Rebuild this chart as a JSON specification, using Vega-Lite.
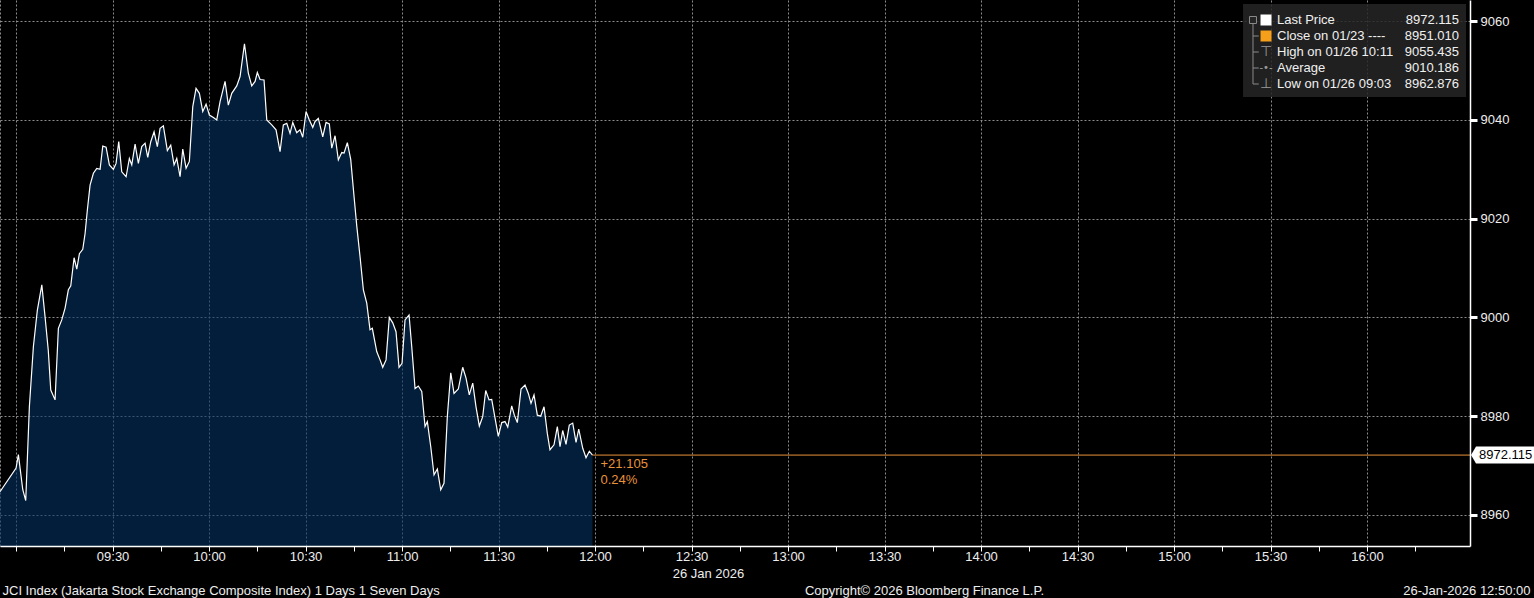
{
  "$schema": "https://vega.github.io/schema/vega-lite/v6.json",
  "width": 1470,
  "height": 546,
  "autosize": {"type": "none"},
  "padding": {"left": 0, "top": 0, "right": 64, "bottom": 52},
  "background": "#000000",
  "config": {
    "view": {"stroke": null},
    "font": "Liberation Sans",
    "axis": {
      "labelFont": "Liberation Sans",
      "labelFontSize": 13,
      "labelColor": "#eeeeee",
      "titleFont": "Liberation Sans",
      "titleFontSize": 13,
      "titleFontWeight": "normal",
      "titleColor": "#eeeeee",
      "domainColor": "#ffffff",
      "tickColor": "#ffffff",
      "gridColor": "#8c8c8c",
      "gridDash": [2, 2],
      "gridWidth": 1
    }
  },
  "resolve": {"scale": {"y": "independent"}},
  "layer": [
    {
      "data": {"values": [
        {"time": "2026-01-26T08:55:00", "price": 8964.7},
        {"time": "2026-01-26T09:00:00", "price": 8969.5},
        {"time": "2026-01-26T09:00:43", "price": 8972.2},
        {"time": "2026-01-26T09:02:05", "price": 8965.1},
        {"time": "2026-01-26T09:03:00", "price": 8962.9},
        {"time": "2026-01-26T09:04:08", "price": 8981.9},
        {"time": "2026-01-26T09:05:23", "price": 8994.1},
        {"time": "2026-01-26T09:06:37", "price": 9001.5},
        {"time": "2026-01-26T09:08:00", "price": 9006.6},
        {"time": "2026-01-26T09:09:00", "price": 9000.2},
        {"time": "2026-01-26T09:10:00", "price": 8993.4},
        {"time": "2026-01-26T09:10:47", "price": 8985.3},
        {"time": "2026-01-26T09:12:07", "price": 8983.3},
        {"time": "2026-01-26T09:13:09", "price": 8997.8},
        {"time": "2026-01-26T09:14:12", "price": 8999.5},
        {"time": "2026-01-26T09:15:14", "price": 9001.9},
        {"time": "2026-01-26T09:16:15", "price": 9005.6},
        {"time": "2026-01-26T09:17:00", "price": 9006.4},
        {"time": "2026-01-26T09:18:02", "price": 9012.1},
        {"time": "2026-01-26T09:18:52", "price": 9009.8},
        {"time": "2026-01-26T09:19:41", "price": 9012.9},
        {"time": "2026-01-26T09:20:44", "price": 9013.8},
        {"time": "2026-01-26T09:21:27", "price": 9017.0},
        {"time": "2026-01-26T09:22:10", "price": 9021.8},
        {"time": "2026-01-26T09:23:00", "price": 9026.8},
        {"time": "2026-01-26T09:24:02", "price": 9029.2},
        {"time": "2026-01-26T09:25:05", "price": 9030.2},
        {"time": "2026-01-26T09:26:07", "price": 9030.0},
        {"time": "2026-01-26T09:26:57", "price": 9034.7},
        {"time": "2026-01-26T09:27:59", "price": 9034.5},
        {"time": "2026-01-26T09:29:00", "price": 9030.9},
        {"time": "2026-01-26T09:30:15", "price": 9030.0},
        {"time": "2026-01-26T09:31:05", "price": 9031.2},
        {"time": "2026-01-26T09:31:55", "price": 9035.6},
        {"time": "2026-01-26T09:32:51", "price": 9029.5},
        {"time": "2026-01-26T09:34:12", "price": 9028.5},
        {"time": "2026-01-26T09:35:13", "price": 9032.2},
        {"time": "2026-01-26T09:35:58", "price": 9030.9},
        {"time": "2026-01-26T09:37:00", "price": 9035.1},
        {"time": "2026-01-26T09:38:01", "price": 9031.2},
        {"time": "2026-01-26T09:39:04", "price": 9034.6},
        {"time": "2026-01-26T09:40:06", "price": 9035.3},
        {"time": "2026-01-26T09:40:56", "price": 9032.4},
        {"time": "2026-01-26T09:41:52", "price": 9035.6},
        {"time": "2026-01-26T09:42:54", "price": 9037.6},
        {"time": "2026-01-26T09:43:55", "price": 9034.6},
        {"time": "2026-01-26T09:44:46", "price": 9038.3},
        {"time": "2026-01-26T09:45:47", "price": 9038.8},
        {"time": "2026-01-26T09:47:02", "price": 9033.8},
        {"time": "2026-01-26T09:48:05", "price": 9034.9},
        {"time": "2026-01-26T09:49:07", "price": 9030.9},
        {"time": "2026-01-26T09:49:57", "price": 9032.2},
        {"time": "2026-01-26T09:50:59", "price": 9028.5},
        {"time": "2026-01-26T09:51:49", "price": 9034.1},
        {"time": "2026-01-26T09:52:51", "price": 9030.2},
        {"time": "2026-01-26T09:53:52", "price": 9031.6},
        {"time": "2026-01-26T09:54:56", "price": 9042.7},
        {"time": "2026-01-26T09:55:57", "price": 9046.4},
        {"time": "2026-01-26T09:56:59", "price": 9045.4},
        {"time": "2026-01-26T09:58:02", "price": 9041.7},
        {"time": "2026-01-26T09:59:04", "price": 9043.2},
        {"time": "2026-01-26T10:00:05", "price": 9041.0},
        {"time": "2026-01-26T10:01:20", "price": 9040.5},
        {"time": "2026-01-26T10:02:23", "price": 9040.0},
        {"time": "2026-01-26T10:03:25", "price": 9043.7},
        {"time": "2026-01-26T10:04:58", "price": 9047.8},
        {"time": "2026-01-26T10:05:59", "price": 9043.0},
        {"time": "2026-01-26T10:07:03", "price": 9045.4},
        {"time": "2026-01-26T10:08:36", "price": 9046.9},
        {"time": "2026-01-26T10:09:38", "price": 9048.8},
        {"time": "2026-01-26T10:11:00", "price": 9055.435},
        {"time": "2026-01-26T10:12:12", "price": 9049.5},
        {"time": "2026-01-26T10:13:16", "price": 9046.9},
        {"time": "2026-01-26T10:14:18", "price": 9047.8},
        {"time": "2026-01-26T10:15:00", "price": 9049.6},
        {"time": "2026-01-26T10:15:51", "price": 9048.2},
        {"time": "2026-01-26T10:17:05", "price": 9048.1},
        {"time": "2026-01-26T10:17:56", "price": 9040.0},
        {"time": "2026-01-26T10:19:29", "price": 9039.0},
        {"time": "2026-01-26T10:20:49", "price": 9038.0},
        {"time": "2026-01-26T10:22:04", "price": 9033.6},
        {"time": "2026-01-26T10:23:05", "price": 9039.0},
        {"time": "2026-01-26T10:24:09", "price": 9039.3},
        {"time": "2026-01-26T10:25:10", "price": 9037.3},
        {"time": "2026-01-26T10:26:01", "price": 9039.5},
        {"time": "2026-01-26T10:27:15", "price": 9037.4},
        {"time": "2026-01-26T10:28:17", "price": 9038.0},
        {"time": "2026-01-26T10:29:07", "price": 9036.5},
        {"time": "2026-01-26T10:30:09", "price": 9041.7},
        {"time": "2026-01-26T10:31:10", "price": 9040.0},
        {"time": "2026-01-26T10:32:14", "price": 9038.5},
        {"time": "2026-01-26T10:32:57", "price": 9039.7},
        {"time": "2026-01-26T10:33:58", "price": 9040.3},
        {"time": "2026-01-26T10:35:20", "price": 9036.6},
        {"time": "2026-01-26T10:36:22", "price": 9039.5},
        {"time": "2026-01-26T10:37:23", "price": 9039.2},
        {"time": "2026-01-26T10:38:08", "price": 9034.3},
        {"time": "2026-01-26T10:39:10", "price": 9036.8},
        {"time": "2026-01-26T10:40:11", "price": 9031.9},
        {"time": "2026-01-26T10:41:15", "price": 9033.4},
        {"time": "2026-01-26T10:41:58", "price": 9033.3},
        {"time": "2026-01-26T10:42:59", "price": 9035.4},
        {"time": "2026-01-26T10:44:02", "price": 9032.0},
        {"time": "2026-01-26T10:45:04", "price": 9024.5},
        {"time": "2026-01-26T10:45:55", "price": 9018.5},
        {"time": "2026-01-26T10:46:56", "price": 9012.3},
        {"time": "2026-01-26T10:47:58", "price": 9005.6},
        {"time": "2026-01-26T10:49:01", "price": 9002.9},
        {"time": "2026-01-26T10:50:02", "price": 8997.5},
        {"time": "2026-01-26T10:50:45", "price": 8997.8},
        {"time": "2026-01-26T10:52:07", "price": 8993.1},
        {"time": "2026-01-26T10:53:09", "price": 8991.4},
        {"time": "2026-01-26T10:53:59", "price": 8989.9},
        {"time": "2026-01-26T10:55:01", "price": 8991.4},
        {"time": "2026-01-26T10:56:02", "price": 9000.0},
        {"time": "2026-01-26T10:57:06", "price": 8998.9},
        {"time": "2026-01-26T10:58:07", "price": 8997.1},
        {"time": "2026-01-26T10:59:03", "price": 8989.9},
        {"time": "2026-01-26T10:59:59", "price": 8990.7},
        {"time": "2026-01-26T11:00:55", "price": 8999.5},
        {"time": "2026-01-26T11:02:10", "price": 9000.5},
        {"time": "2026-01-26T11:03:00", "price": 8994.1},
        {"time": "2026-01-26T11:04:02", "price": 8985.6},
        {"time": "2026-01-26T11:05:03", "price": 8986.1},
        {"time": "2026-01-26T11:06:07", "price": 8985.0},
        {"time": "2026-01-26T11:07:08", "price": 8977.9},
        {"time": "2026-01-26T11:07:51", "price": 8978.9},
        {"time": "2026-01-26T11:08:55", "price": 8973.8},
        {"time": "2026-01-26T11:09:56", "price": 8968.1},
        {"time": "2026-01-26T11:10:58", "price": 8969.3},
        {"time": "2026-01-26T11:12:01", "price": 8965.1},
        {"time": "2026-01-26T11:13:02", "price": 8966.4},
        {"time": "2026-01-26T11:14:04", "price": 8979.9},
        {"time": "2026-01-26T11:15:08", "price": 8988.8},
        {"time": "2026-01-26T11:16:09", "price": 8984.6},
        {"time": "2026-01-26T11:17:29", "price": 8985.5},
        {"time": "2026-01-26T11:18:51", "price": 8989.9},
        {"time": "2026-01-26T11:19:53", "price": 8987.7},
        {"time": "2026-01-26T11:20:54", "price": 8984.3},
        {"time": "2026-01-26T11:21:58", "price": 8986.7},
        {"time": "2026-01-26T11:22:59", "price": 8981.9},
        {"time": "2026-01-26T11:24:01", "price": 8978.0},
        {"time": "2026-01-26T11:25:04", "price": 8979.9},
        {"time": "2026-01-26T11:26:00", "price": 8985.2},
        {"time": "2026-01-26T11:27:02", "price": 8983.3},
        {"time": "2026-01-26T11:27:52", "price": 8983.4},
        {"time": "2026-01-26T11:28:54", "price": 8979.6},
        {"time": "2026-01-26T11:29:55", "price": 8975.9},
        {"time": "2026-01-26T11:30:59", "price": 8978.7},
        {"time": "2026-01-26T11:32:00", "price": 8978.9},
        {"time": "2026-01-26T11:32:51", "price": 8977.8},
        {"time": "2026-01-26T11:34:05", "price": 8982.1},
        {"time": "2026-01-26T11:34:54", "price": 8980.2},
        {"time": "2026-01-26T11:35:50", "price": 8978.7},
        {"time": "2026-01-26T11:36:59", "price": 8985.5},
        {"time": "2026-01-26T11:38:13", "price": 8986.3},
        {"time": "2026-01-26T11:39:15", "price": 8984.6},
        {"time": "2026-01-26T11:40:05", "price": 8982.6},
        {"time": "2026-01-26T11:41:01", "price": 8984.3},
        {"time": "2026-01-26T11:42:03", "price": 8980.2},
        {"time": "2026-01-26T11:43:06", "price": 8980.0},
        {"time": "2026-01-26T11:44:08", "price": 8981.9},
        {"time": "2026-01-26T11:45:09", "price": 8976.5},
        {"time": "2026-01-26T11:45:59", "price": 8973.2},
        {"time": "2026-01-26T11:47:14", "price": 8974.2},
        {"time": "2026-01-26T11:48:16", "price": 8977.9},
        {"time": "2026-01-26T11:49:06", "price": 8973.8},
        {"time": "2026-01-26T11:49:56", "price": 8977.1},
        {"time": "2026-01-26T11:50:58", "price": 8974.3},
        {"time": "2026-01-26T11:51:59", "price": 8978.2},
        {"time": "2026-01-26T11:53:03", "price": 8978.6},
        {"time": "2026-01-26T11:54:05", "price": 8974.7},
        {"time": "2026-01-26T11:54:55", "price": 8977.4},
        {"time": "2026-01-26T11:56:10", "price": 8973.5},
        {"time": "2026-01-26T11:57:11", "price": 8971.6},
        {"time": "2026-01-26T11:58:13", "price": 8972.9},
        {"time": "2026-01-26T11:59:12", "price": 8972.115}
      ]},
      "resolve": {"axis": {"x": "independent", "y": "independent"}},
      "layer": [
        {
          "mark": {"type": "area", "fill": "#053261", "fillOpacity": 0.6, "clip": true},
          "encoding": {
            "x": {
              "field": "time", "type": "temporal",
              "scale": {"domain": [
                {"year": 2026, "month": 1, "date": 26, "hours": 8, "minutes": 55},
                {"year": 2026, "month": 1, "date": 26, "hours": 16, "minutes": 32}
              ]},
              "axis": {
                "orient": "bottom", "zindex": 0, "grid": true, "labels": false, "ticks": false, "domain": false,
                "values": [
                  {"year": 2026, "month": 1, "date": 26, "hours": 8, "minutes": 55},
                  {"year": 2026, "month": 1, "date": 26, "hours": 9, "minutes": 0},
                  {"year": 2026, "month": 1, "date": 26, "hours": 9, "minutes": 30},
                  {"year": 2026, "month": 1, "date": 26, "hours": 10, "minutes": 0},
                  {"year": 2026, "month": 1, "date": 26, "hours": 10, "minutes": 30},
                  {"year": 2026, "month": 1, "date": 26, "hours": 11, "minutes": 0},
                  {"year": 2026, "month": 1, "date": 26, "hours": 11, "minutes": 30},
                  {"year": 2026, "month": 1, "date": 26, "hours": 12, "minutes": 0},
                  {"year": 2026, "month": 1, "date": 26, "hours": 12, "minutes": 30},
                  {"year": 2026, "month": 1, "date": 26, "hours": 13, "minutes": 0},
                  {"year": 2026, "month": 1, "date": 26, "hours": 13, "minutes": 30},
                  {"year": 2026, "month": 1, "date": 26, "hours": 14, "minutes": 0},
                  {"year": 2026, "month": 1, "date": 26, "hours": 14, "minutes": 30},
                  {"year": 2026, "month": 1, "date": 26, "hours": 15, "minutes": 0},
                  {"year": 2026, "month": 1, "date": 26, "hours": 15, "minutes": 30},
                  {"year": 2026, "month": 1, "date": 26, "hours": 16, "minutes": 0}
                ],
                "title": "Copyright© 2026 Bloomberg Finance L.P.",
                "titleX": 924, "titleY": 44, "titleAlign": "center", "titleBaseline": "middle"
              }
            },
            "y": {
              "field": "price", "type": "quantitative",
              "scale": {"domain": [8953.7, 9064.3], "zero": false, "nice": false},
              "axis": {
                "orient": "left", "zindex": 0, "grid": true, "labels": false, "ticks": false, "domain": false,
                "values": [8960, 8980, 9000, 9020, 9040, 9060],
                "title": "JCI Index (Jakarta Stock Exchange Composite Index) 1 Days 1 Seven Days",
                "titleAngle": 0, "titleX": 2, "titleY": 590, "titleAlign": "left", "titleBaseline": "middle"
              }
            }
          }
        },
        {
          "mark": {"type": "line", "color": "#ffffff", "strokeWidth": 1.2},
          "encoding": {
            "x": {
              "field": "time", "type": "temporal",
              "axis": {
                "orient": "bottom", "zindex": 1, "grid": false, "tickSize": 5, "domainWidth": 1.5,
                "labelBaseline": "middle", "labelPadding": 5, "labelOverlap": false, "labelFlush": false,
                "values": [
                  {"year": 2026, "month": 1, "date": 26, "hours": 9, "minutes": 0},
                  {"year": 2026, "month": 1, "date": 26, "hours": 9, "minutes": 15},
                  {"year": 2026, "month": 1, "date": 26, "hours": 9, "minutes": 30},
                  {"year": 2026, "month": 1, "date": 26, "hours": 9, "minutes": 45},
                  {"year": 2026, "month": 1, "date": 26, "hours": 10, "minutes": 0},
                  {"year": 2026, "month": 1, "date": 26, "hours": 10, "minutes": 15},
                  {"year": 2026, "month": 1, "date": 26, "hours": 10, "minutes": 30},
                  {"year": 2026, "month": 1, "date": 26, "hours": 10, "minutes": 45},
                  {"year": 2026, "month": 1, "date": 26, "hours": 11, "minutes": 0},
                  {"year": 2026, "month": 1, "date": 26, "hours": 11, "minutes": 15},
                  {"year": 2026, "month": 1, "date": 26, "hours": 11, "minutes": 30},
                  {"year": 2026, "month": 1, "date": 26, "hours": 11, "minutes": 45},
                  {"year": 2026, "month": 1, "date": 26, "hours": 12, "minutes": 0},
                  {"year": 2026, "month": 1, "date": 26, "hours": 12, "minutes": 15},
                  {"year": 2026, "month": 1, "date": 26, "hours": 12, "minutes": 30},
                  {"year": 2026, "month": 1, "date": 26, "hours": 12, "minutes": 45},
                  {"year": 2026, "month": 1, "date": 26, "hours": 13, "minutes": 0},
                  {"year": 2026, "month": 1, "date": 26, "hours": 13, "minutes": 15},
                  {"year": 2026, "month": 1, "date": 26, "hours": 13, "minutes": 30},
                  {"year": 2026, "month": 1, "date": 26, "hours": 13, "minutes": 45},
                  {"year": 2026, "month": 1, "date": 26, "hours": 14, "minutes": 0},
                  {"year": 2026, "month": 1, "date": 26, "hours": 14, "minutes": 15},
                  {"year": 2026, "month": 1, "date": 26, "hours": 14, "minutes": 30},
                  {"year": 2026, "month": 1, "date": 26, "hours": 14, "minutes": 45},
                  {"year": 2026, "month": 1, "date": 26, "hours": 15, "minutes": 0},
                  {"year": 2026, "month": 1, "date": 26, "hours": 15, "minutes": 15},
                  {"year": 2026, "month": 1, "date": 26, "hours": 15, "minutes": 30},
                  {"year": 2026, "month": 1, "date": 26, "hours": 15, "minutes": 45},
                  {"year": 2026, "month": 1, "date": 26, "hours": 16, "minutes": 0},
                  {"year": 2026, "month": 1, "date": 26, "hours": 16, "minutes": 15}
                ],
                "labelExpr": "(minutes(datum.value) % 30 == 0 && !(hours(datum.value) == 9 && minutes(datum.value) == 0)) ? timeFormat(datum.value, '%H:%M') : ''",
                "title": "26 Jan 2026",
                "titleX": 708, "titleY": 27, "titleAlign": "center", "titleBaseline": "middle"
              }
            },
            "y": {
              "field": "price", "type": "quantitative",
              "axis": {
                "orient": "right", "zindex": 1, "grid": false, "tickSize": 7, "tickWidth": 3, "domainWidth": 1.5,
                "values": [8960, 8980, 9000, 9020, 9040, 9060], "format": "d",
                "labelPadding": 3, "labelBaseline": "middle", "labelFlush": false,
                "title": "26-Jan-2026 12:50:00",
                "titleAngle": 0, "titleX": 60, "titleY": 590, "titleAlign": "right", "titleBaseline": "middle"
              }
            }
          }
        },
        {
          "data": {"values": [{"time": "2026-01-26T11:59:12", "last": 8972.115, "change": "+21.105", "pct": "0.24%"}]},
          "layer": [
            {
              "mark": {"type": "rule", "color": "#e8923a", "strokeWidth": 1},
              "encoding": {
                "x": {"field": "time", "type": "temporal", "axis": null},
                "x2": {"datum": {"year": 2026, "month": 1, "date": 26, "hours": 16, "minutes": 32}},
                "y": {
                  "field": "last", "type": "quantitative",
                  "axis": {
                    "orient": "right", "zindex": 1, "grid": false, "labels": false, "domain": false,
                    "tickSize": 4, "tickWidth": 1,
                    "values": [8970, 8990, 9010, 9030, 9050], "title": null
                  }
                }
              }
            },
            {
              "mark": {"type": "text", "color": "#e8923a", "fontSize": 13, "align": "left", "baseline": "middle", "dx": 8, "dy": 9},
              "encoding": {
                "x": {"field": "time", "type": "temporal", "axis": null},
                "y": {"field": "last", "type": "quantitative", "axis": null},
                "text": {"field": "change"}
              }
            },
            {
              "mark": {"type": "text", "color": "#e8923a", "fontSize": 13, "align": "left", "baseline": "middle", "dx": 8, "dy": 25},
              "encoding": {
                "x": {"field": "time", "type": "temporal", "axis": null},
                "y": {"field": "last", "type": "quantitative", "axis": null},
                "text": {"field": "pct"}
              }
            },
            {
              "mark": {"type": "point", "filled": true, "color": "#ffffff", "opacity": 1, "size": 16384,
                       "shape": "M0.016,0L0.094,-0.133L1.05,-0.133L1.05,0.133L0.094,0.133Z"},
              "encoding": {
                "x": {"datum": {"year": 2026, "month": 1, "date": 26, "hours": 16, "minutes": 32}, "type": "temporal", "axis": null},
                "y": {"field": "last", "type": "quantitative", "axis": null}
              }
            },
            {
              "mark": {"type": "text", "color": "#000000", "fontSize": 13, "align": "left", "baseline": "middle", "dx": 9},
              "encoding": {
                "x": {"datum": {"year": 2026, "month": 1, "date": 26, "hours": 16, "minutes": 32}, "type": "temporal", "axis": null},
                "y": {"field": "last", "type": "quantitative", "axis": null},
                "text": {"field": "last", "type": "quantitative", "format": ".3f"}
              }
            }
          ]
        }
      ]
    },
    {
      "data": {"values": [
        {"k": 0, "item": "Last Price", "val": "8972.115"},
        {"k": 1, "item": "Close on 01/23 ----", "val": "8951.010"},
        {"k": 2, "item": "High on 01/26 10:11", "val": "9055.435"},
        {"k": 3, "item": "Average", "val": "9010.186"},
        {"k": 4, "item": "Low on 01/26 09:03", "val": "8962.876"}
      ]},
      "layer": [
        {
          "transform": [{"filter": "datum.k == 0"}],
          "mark": {"type": "rect", "fill": "#262626", "opacity": 0.85},
          "encoding": {
            "x": {"datum": {"year": 2026, "month": 1, "date": 26, "hours": 15, "minutes": 21, "seconds": 26}, "type": "temporal", "axis": null},
            "x2": {"datum": {"year": 2026, "month": 1, "date": 26, "hours": 16, "minutes": 30, "seconds": 46}},
            "y": {"datum": -1, "type": "quantitative", "scale": {"domain": [-1.25, 32.875], "reverse": true, "zero": false, "nice": false}, "axis": null},
            "y2": {"datum": 4.8125}
          }
        },
        {
          "transform": [{"filter": "datum.k == 0"}],
          "mark": {"type": "rule", "color": "#8a8a8a", "strokeWidth": 1},
          "encoding": {
            "x": {"datum": {"year": 2026, "month": 1, "date": 26, "hours": 15, "minutes": 24, "seconds": 32}, "type": "temporal", "axis": null},
            "y": {"datum": 0.25, "type": "quantitative", "axis": null},
            "y2": {"datum": 4}
          }
        },
        {
          "transform": [{"filter": "datum.k >= 1"}],
          "mark": {"type": "rule", "color": "#8a8a8a", "strokeWidth": 1},
          "encoding": {
            "x": {"datum": {"year": 2026, "month": 1, "date": 26, "hours": 15, "minutes": 24, "seconds": 32}, "type": "temporal", "axis": null},
            "x2": {"datum": {"year": 2026, "month": 1, "date": 26, "hours": 15, "minutes": 26, "seconds": 20}},
            "y": {"field": "k", "type": "quantitative", "axis": null}
          }
        },
        {
          "transform": [{"filter": "datum.k == 0"}],
          "mark": {"type": "point", "shape": "square", "size": 49, "filled": true, "fill": "#262626", "stroke": "#8a8a8a", "strokeWidth": 1, "opacity": 1},
          "encoding": {
            "x": {"datum": {"year": 2026, "month": 1, "date": 26, "hours": 15, "minutes": 24, "seconds": 32}, "type": "temporal", "axis": null},
            "y": {"field": "k", "type": "quantitative", "axis": null}
          }
        },
        {
          "transform": [{"filter": "datum.k <= 1"}],
          "mark": {"type": "point", "shape": "square", "size": 121, "filled": true, "opacity": 1},
          "encoding": {
            "x": {"datum": {"year": 2026, "month": 1, "date": 26, "hours": 15, "minutes": 28, "seconds": 35}, "type": "temporal", "axis": null},
            "y": {"field": "k", "type": "quantitative", "axis": null},
            "color": {"field": "k", "type": "nominal", "scale": {"domain": [0, 1], "range": ["#ffffff", "#f59f1b"]}, "legend": null}
          }
        },
        {
          "transform": [{"filter": "datum.k == 2"}],
          "mark": {"type": "text", "text": "⊤", "color": "#9a9a9a", "fontSize": 14, "font": "DejaVu Sans", "align": "center", "baseline": "middle"},
          "encoding": {
            "x": {"datum": {"year": 2026, "month": 1, "date": 26, "hours": 15, "minutes": 28, "seconds": 35}, "type": "temporal", "axis": null},
            "y": {"field": "k", "type": "quantitative", "axis": null}
          }
        },
        {
          "transform": [{"filter": "datum.k == 3"}],
          "mark": {"type": "text", "text": "-•-", "color": "#9a9a9a", "fontSize": 10, "font": "DejaVu Sans", "align": "center", "baseline": "middle"},
          "encoding": {
            "x": {"datum": {"year": 2026, "month": 1, "date": 26, "hours": 15, "minutes": 28, "seconds": 35}, "type": "temporal", "axis": null},
            "y": {"field": "k", "type": "quantitative", "axis": null}
          }
        },
        {
          "transform": [{"filter": "datum.k == 4"}],
          "mark": {"type": "text", "text": "⊥", "color": "#9a9a9a", "fontSize": 14, "font": "DejaVu Sans", "align": "center", "baseline": "middle"},
          "encoding": {
            "x": {"datum": {"year": 2026, "month": 1, "date": 26, "hours": 15, "minutes": 28, "seconds": 35}, "type": "temporal", "axis": null},
            "y": {"field": "k", "type": "quantitative", "axis": null}
          }
        },
        {
          "mark": {"type": "text", "color": "#f0f0f0", "fontSize": 13, "align": "left", "baseline": "middle"},
          "encoding": {
            "x": {"datum": {"year": 2026, "month": 1, "date": 26, "hours": 15, "minutes": 32, "seconds": 0}, "type": "temporal", "axis": null},
            "y": {"field": "k", "type": "quantitative", "axis": null},
            "text": {"field": "item"}
          }
        },
        {
          "mark": {"type": "text", "color": "#f0f0f0", "fontSize": 13, "align": "right", "baseline": "middle"},
          "encoding": {
            "x": {"datum": {"year": 2026, "month": 1, "date": 26, "hours": 16, "minutes": 28, "seconds": 35}, "type": "temporal", "axis": null},
            "y": {"field": "k", "type": "quantitative", "axis": null},
            "text": {"field": "val"}
          }
        }
      ]
    }
  ]
}
